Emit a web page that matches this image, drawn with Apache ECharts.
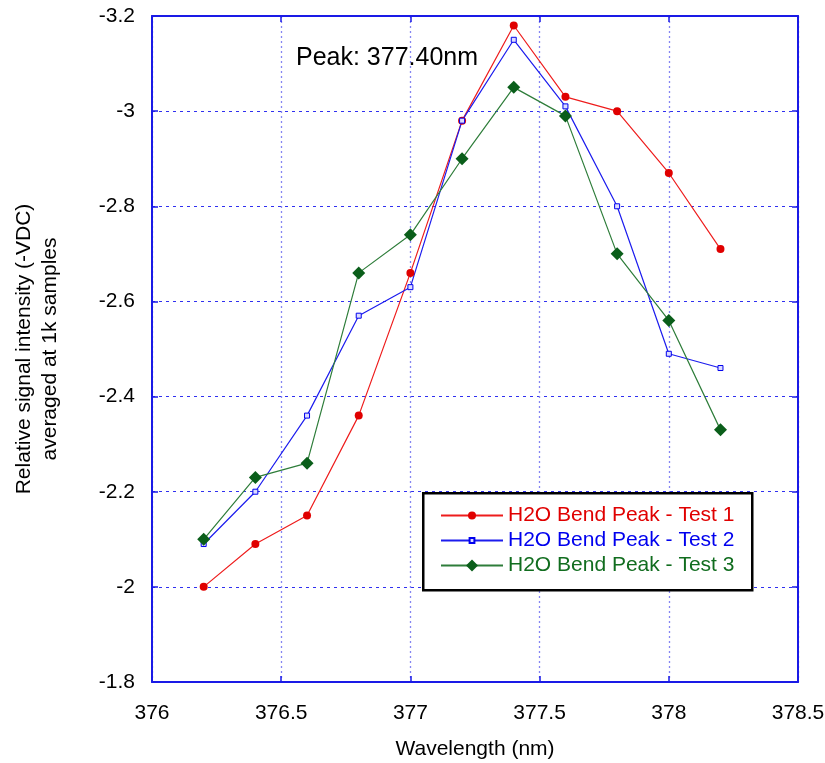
<!DOCTYPE html>
<html>
<head>
<meta charset="utf-8">
<script src="https://cdn.jsdelivr.net/npm/echarts@6/dist/echarts.min.js"></script>
<style>
  html, body { margin: 0; padding: 0; background: #ffffff; }
  #chart { width: 825px; height: 763px; }
</style>
</head>
<body>
<div id="chart"></div>
<script>
// Wavelength samples (nm)
const wavelength = [376.2, 376.4, 376.6, 376.8, 377.0, 377.2, 377.4, 377.6, 377.8, 378.0, 378.2];
// Relative signal intensity (-VDC), averaged at 1k samples
const test1 = [-2.00, -2.09, -2.15, -2.36, -2.66, -2.98, -3.18, -3.03, -3.00, -2.87, -2.71];
const test2 = [-2.09, -2.20, -2.36, -2.57, -2.63, -2.98, -3.15, -3.01, -2.80, -2.49, -2.46];
const test3 = [-2.10, -2.23, -2.26, -2.66, -2.74, -2.90, -3.05, -2.99, -2.70, -2.56, -2.33];
const seriesNames = ['H2O Bend Peak - Test 1', 'H2O Bend Peak - Test 2', 'H2O Bend Peak - Test 3'];
const peakLabel = 'Peak: 377.40nm';

const FONT = 'Liberation Sans, Arial, sans-serif';
const AXIS_BLUE = '#1a1ae6';

const pair = (ys) => wavelength.map((x, i) => [x, ys[i]]);

const chart = echarts.init(document.getElementById('chart'), null, { renderer: 'canvas' });

// Top and right edges of the plot frame, with inward ticks and no labels
const frameAxis = {
  axisLine: { show: true, onZero: false, lineStyle: { color: AXIS_BLUE, width: 2 } },
  axisTick: { show: true, inside: true, length: 6, lineStyle: { color: AXIS_BLUE, width: 1.5 } },
  axisLabel: { show: false },
  splitLine: { show: false }
};

// One legend per row so each marker keeps its own size
function legendRow(name, color, top, itemHeight) {
  return {
    data: [{ name: name, textStyle: { color: color } }],
    left: 440,
    top: top,
    orient: 'vertical',
    padding: 0,
    itemWidth: 62,
    itemHeight: itemHeight,
    selectedMode: false,
    textStyle: { fontFamily: FONT, fontSize: 21, color: color },
    z: 10
  };
}

chart.setOption({
  animation: false,
  backgroundColor: '#ffffff',
  grid: { left: 152, right: 27, top: 16, bottom: 81, containLabel: false, outerBoundsMode: 'none' },
  xAxis: [
    {
      type: 'value',
      min: 376,
      max: 378.5,
      interval: 0.5,
      name: 'Wavelength (nm)',
      nameLocation: 'middle',
      nameGap: 57,
      nameTextStyle: { fontFamily: FONT, fontSize: 21, color: '#000' },
      axisLine: { show: true, onZero: false, lineStyle: { color: AXIS_BLUE, width: 2 } },
      axisTick: { show: true, inside: true, length: 6, lineStyle: { color: AXIS_BLUE, width: 1.5 } },
      axisLabel: { fontFamily: FONT, fontSize: 21, color: '#000', margin: 21 },
      splitLine: { show: true, lineStyle: { color: '#8585f2', type: [2, 3], width: 1.3 } }
    },
    Object.assign({ type: 'value', position: 'top', min: 376, max: 378.5, interval: 0.5 }, frameAxis)
  ],
  yAxis: [
    {
      type: 'value',
      inverse: true,
      min: -3.2,
      max: -1.8,
      interval: 0.2,
      name: 'Relative signal intensity (-VDC)\naveraged at 1k samples',
      nameLocation: 'middle',
      nameGap: 89,
      nameTextStyle: { fontFamily: FONT, fontSize: 21, color: '#000', lineHeight: 26, align: 'center' },
      axisLine: { show: true, onZero: false, lineStyle: { color: AXIS_BLUE, width: 2 } },
      axisTick: { show: true, inside: true, length: 6, lineStyle: { color: AXIS_BLUE, width: 1.5 } },
      axisLabel: { fontFamily: FONT, fontSize: 21, color: '#000', margin: 17 },
      splitLine: { show: true, lineStyle: { color: '#3030f0', type: [3, 4], width: 1.2 } }
    },
    Object.assign({ type: 'value', position: 'right', inverse: true, min: -3.2, max: -1.8, interval: 0.2 }, frameAxis)
  ],
  legend: [
    legendRow(seriesNames[0], '#e00000', 505, 10),
    legendRow(seriesNames[1], '#0000ee', 530, 6),
    legendRow(seriesNames[2], '#116d1f', 555, 15)
  ],
  graphic: [
    {
      type: 'rect',
      left: 422,
      top: 492,
      shape: { width: 329, height: 97 },
      style: { fill: '#ffffff', stroke: '#000000', lineWidth: 2.5 },
      z: 5
    },
    {
      type: 'text',
      left: 296,
      top: 46,
      style: { text: peakLabel, font: '25px ' + FONT, fill: '#000000' },
      z: 6
    }
  ],
  series: [
    {
      name: seriesNames[0],
      type: 'line',
      data: pair(test1),
      symbol: 'circle',
      symbolSize: 8,
      lineStyle: { color: '#ee1c1c', width: 1.2 },
      itemStyle: { color: '#e00000', borderWidth: 0 },
      z: 3
    },
    {
      name: seriesNames[1],
      type: 'line',
      data: pair(test2),
      symbol: 'rect',
      symbolSize: 5,
      lineStyle: { color: '#1c1cee', width: 1.2 },
      itemStyle: { color: '#dcdcff', borderColor: '#0000ee', borderWidth: 1 },
      z: 3
    },
    {
      name: seriesNames[2],
      type: 'line',
      data: pair(test3),
      symbol: 'diamond',
      symbolSize: 13,
      lineStyle: { color: '#2e7d3a', width: 1.2 },
      itemStyle: { color: '#0a5e1a', borderWidth: 0 },
      z: 3
    }
  ]
});
</script>
</body>
</html>
